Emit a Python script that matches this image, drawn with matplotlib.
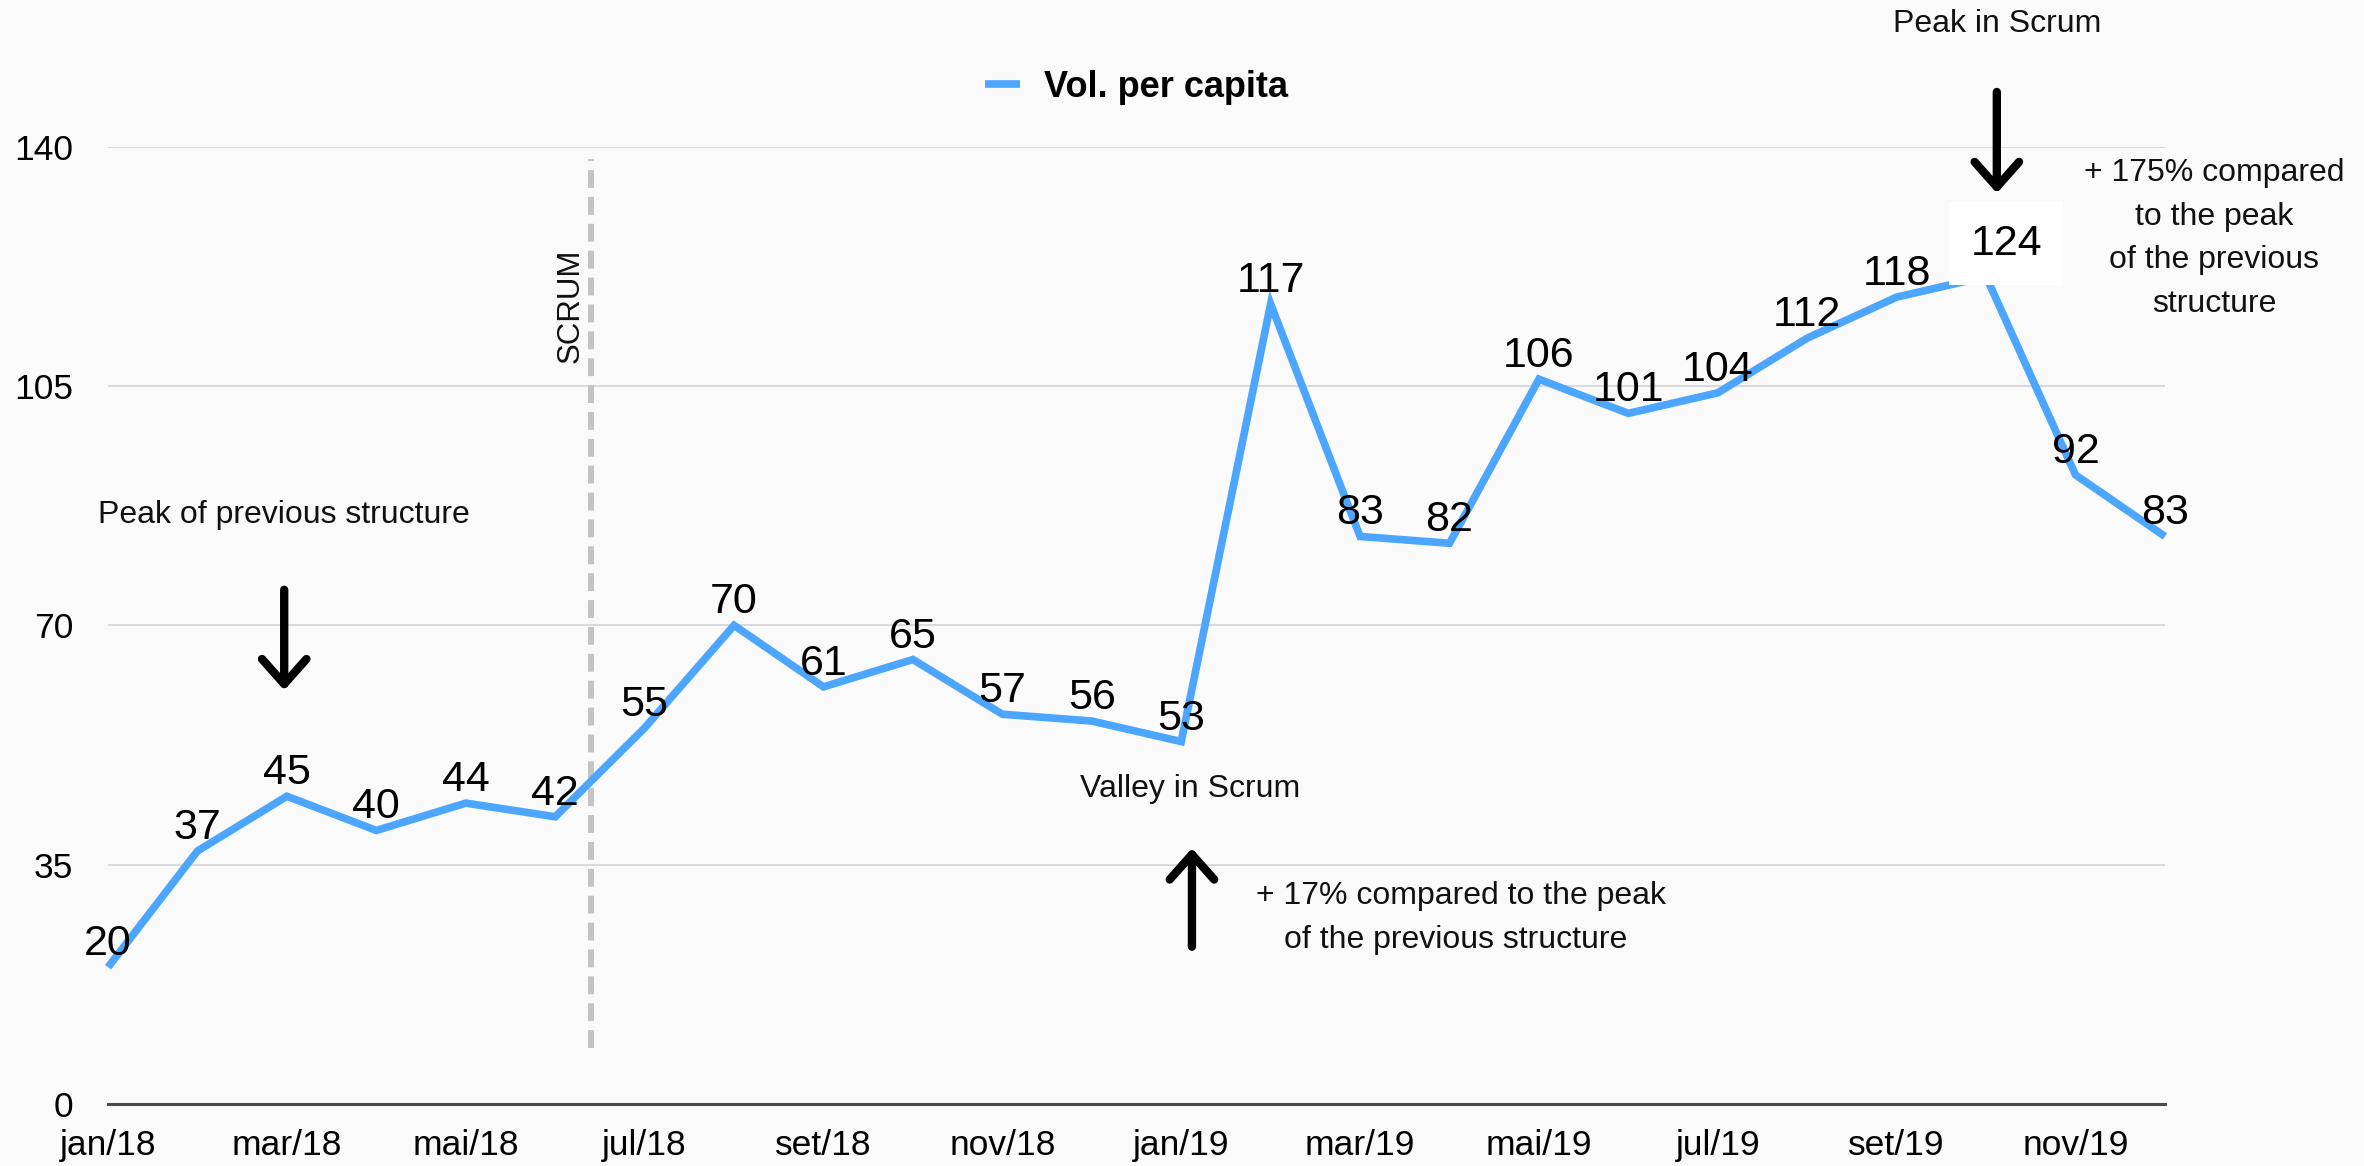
import matplotlib.pyplot as plt

plt.rcParams['font.family'] = ['Liberation Sans', 'DejaVu Sans']

# monthly volume per capita, jan/18 .. dez/19
months = ['jan/18', 'fev/18', 'mar/18', 'abr/18', 'mai/18', 'jun/18',
          'jul/18', 'ago/18', 'set/18', 'out/18', 'nov/18', 'dez/18',
          'jan/19', 'fev/19', 'mar/19', 'abr/19', 'mai/19', 'jun/19',
          'jul/19', 'ago/19', 'set/19', 'out/19', 'nov/19', 'dez/19']
vol = [20, 37, 45, 40, 44, 42, 55, 70, 61, 65, 57, 56,
       53, 117, 83, 82, 106, 101, 104, 112, 118, 121, 92, 83]
# the label on the peak was pasted over (reads 124)
vol_labels = ['20', '37', '45', '40', '44', '42', '55', '70', '61', '65', '57', '56',
              '53', '117', '83', '82', '106', '101', '104', '112', '118', '124', '92', '83']
yticks = [0, 35, 70, 105, 140]
peak_idx = 21
scrum_x = 5.4

bg = '#fafafa'
blue = '#4ca6ff'

fig = plt.figure(figsize=(23.64, 11.66), dpi=100, facecolor=bg)
ax = fig.add_axes([0.0457, 0.0532, 0.8701, 0.8210])
ax.set_facecolor(bg)

x = list(range(len(vol)))
ax.plot(x, vol, color=blue, lw=5.5, solid_capstyle='butt', solid_joinstyle='miter',
        clip_on=False, zorder=3, label='Vol. per capita')

for i, (v, t) in enumerate(zip(vol, vol_labels)):
    if i == peak_idx:
        continue
    ax.annotate(t, (i, v), xytext=(0, 12), textcoords='offset pixels',
                ha='center', va='baseline', fontsize=31, zorder=4,
                annotation_clip=False)

ax.annotate(vol_labels[peak_idx], (peak_idx, vol[peak_idx]), xytext=(20, 22),
            textcoords='offset pixels', ha='center', va='baseline', fontsize=31,
            bbox=dict(boxstyle='square,pad=0.5', fc='white', ec='none'),
            zorder=5, annotation_clip=False)

ax.set_xlim(0, len(vol) - 1)
ax.set_ylim(0, 140)
ax.set_yticks(yticks)
ax.set_xticks(x[::2])
ax.set_xticklabels(months[::2])
ax.tick_params(axis='y', length=0, pad=25, labelsize=25.5)
ax.tick_params(axis='x', length=0, pad=18, labelsize=25.5)
for s in ['top', 'right', 'left']:
    ax.spines[s].set_visible(False)
ax.spines['bottom'].set_color('#4a4a4a')
ax.spines['bottom'].set_linewidth(2.2)
ax.yaxis.grid(True, color='#dadada', lw=1.5)
ax.set_axisbelow(True)

# scrum start marker
ax.vlines(scrum_x, 8.2, 138.2, colors='#c4c4c4', lw=4.3, linestyles=(0, (3, 1.5)), zorder=2)
ax.text(5.17, 116.7, 'SCRUM', rotation=90, ha='center', va='center', fontsize=22.5, color='#111111')

arrow = dict(arrowstyle='->, head_length=18, head_width=16', color='black', lw=6,
             mutation_scale=1, shrinkA=0, shrinkB=0)
fs = 23
tc = '#111111'

ax.text(1.97, 85.0, 'Peak of previous structure', ha='center', va='baseline', fontsize=fs, color=tc)
ax.annotate('', xy=(1.97, 60.5), xytext=(1.97, 75.2), arrowprops=arrow, annotation_clip=False)

ax.text(21.12, 156.8, 'Peak in Scrum', ha='center', va='baseline', fontsize=fs, color=tc, clip_on=False)
ax.annotate('', xy=(21.12, 133.2), xytext=(21.12, 148.0), arrowprops=arrow, annotation_clip=False)
# va='baseline' on multi-line text pins the last line
ax.text(23.55, 115.8, '+ 175% compared\nto the peak\nof the previous\nstructure', ha='center', va='baseline',
        fontsize=fs, color=tc, linespacing=1.6, clip_on=False)

ax.text(12.10, 44.9, 'Valley in Scrum', ha='center', va='baseline', fontsize=fs, color=tc)
ax.annotate('', xy=(12.12, 37.4), xytext=(12.12, 23.0), arrowprops=arrow, annotation_clip=False)
ax.text(12.84, 29.2, '+ 17% compared to the peak', ha='left', va='baseline', fontsize=fs, color=tc)
ax.text(13.15, 22.8, 'of the previous structure', ha='left', va='baseline', fontsize=fs, color=tc)

leg = ax.legend(loc='center', bbox_to_anchor=(0.5, 1.062), frameon=False, fontsize=26,
                handlelength=0.97, handletextpad=0.66, borderpad=0)
for t in leg.get_texts():
    t.set_fontweight('bold')

fig.savefig('out.png', dpi=100, facecolor=bg)
